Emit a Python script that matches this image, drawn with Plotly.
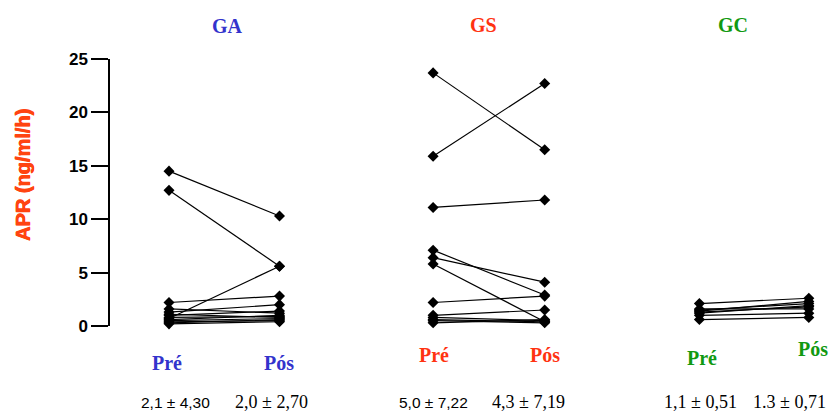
import plotly.graph_objects as go

# ---- data ----
groups = ["GA", "GS", "GC"]
phase_labels = ["Pré", "Pós"]

ga_pre = [14.5, 12.7, 0.7, 2.2, 1.3, 1.6, 1.0, 0.8, 0.5, 0.4, 0.3, 0.6, 1.1, 0.2]
ga_pos = [10.3, 5.6, 5.6, 2.8, 2.0, 1.2, 1.4, 0.9, 0.7, 0.5, 0.6, 1.0, 0.8, 0.4]

gs_pre = [23.7, 15.9, 11.1, 7.1, 6.4, 5.8, 2.2, 1.0, 0.8, 0.5, 0.3, 0.6]
gs_pos = [16.5, 22.7, 11.8, 2.9, 4.1, 0.4, 2.8, 1.5, 0.5, 0.3, 0.6, 0.4]

gc_pre = [2.1, 1.5, 1.3, 1.2, 1.6, 0.6, 1.4, 1.0]
gc_pos = [2.6, 2.1, 1.8, 1.9, 1.6, 0.8, 2.3, 1.2]

stats_pre = ["2,1 ± 4,30", "5,0 ± 7,22", "1,1 ± 0,51"]
stats_pos = ["2,0 ± 2,70", "4,3 ± 7,19", "1.3 ± 0,71"]

y_ticks = [0, 5, 10, 15, 20, 25]
y_title = "APR (ng/ml/h)"

# ---- layout constants ----
group_x = [(0.0, 1.0), (2.39, 3.40), (4.80, 5.79)]
group_colors = ["#3333CC", "#FF3311", "#119911"]

W, H = 834, 412
L, R, T, B = 110, 10, 59, 86
PW = W - L - R
PH = H - T - B
unit = 110.5
x0 = -(169 - L) / unit
x1 = x0 + PW / unit


def py(p):
    return (H - B - p) / PH


def px(p):
    return (p - L) / PW


fig = go.Figure()
series = [(ga_pre, ga_pos), (gs_pre, gs_pos), (gc_pre, gc_pos)]
for (pre, pos), (xa, xb) in zip(series, group_x):
    xs, ys = [], []
    for a, b in zip(pre, pos):
        xs += [xa, xb, None]
        ys += [a, b, None]
    fig.add_trace(go.Scatter(
        x=xs, y=ys, mode="lines+markers",
        line=dict(color="black", width=1.2),
        marker=dict(symbol="diamond", size=8.5, color="black"),
        cliponaxis=False, showlegend=False, hoverinfo="skip"))

ann = []
title_px = [227, 483, 733]
title_py = [26, 25, 25]
pre_py = [363, 355, 358]
pos_py = [363, 355, 349]
pre_lx = [167, 434, 702]
pos_lx = [279, 545, 813]
stat_pre_x = [175, 433, 700]
stat_pos_x = [271, 528, 789]
stat_pre_fonts = ["Liberation Sans", "Liberation Sans", "Liberation Serif"]
stat_pre_sizes = [15.5, 15.5, 18]
serif = "Liberation Serif, Times New Roman, serif"


def label(text, x, y, font, angle=0):
    return dict(text=text, xref="paper", yref="paper", x=px(x), y=py(y),
                xanchor="center", yanchor="middle", textangle=angle,
                showarrow=False, font=font)


for i, g in enumerate(groups):
    c = group_colors[i]
    bold = dict(family=serif, size=20, color=c)
    ann.append(label("<b>" + g + "</b>", title_px[i], title_py[i], bold))
    ann.append(label("<b>" + phase_labels[0] + "</b>", pre_lx[i], pre_py[i], bold))
    ann.append(label("<b>" + phase_labels[1] + "</b>", pos_lx[i], pos_py[i], bold))
    ann.append(label(stats_pre[i], stat_pre_x[i], 402,
                     dict(family=stat_pre_fonts[i], size=stat_pre_sizes[i], color="black")))
    ann.append(label(stats_pos[i], stat_pos_x[i], 402,
                     dict(family=serif, size=18, color="black")))

ann.append(label(y_title, 23, 175,
                 dict(family="Liberation Sans", size=20, color="#FF4411", weight="bold",
                      shadow="0.6px 0 0 #FF4411, -0.3px 0 0 #FF4411"), -90))

fig.update_layout(
    width=W, height=H,
    margin=dict(l=L, r=R, t=T, b=B),
    paper_bgcolor="white", plot_bgcolor="white",
    annotations=ann,
    xaxis=dict(range=[x0, x1], visible=False, fixedrange=True),
    yaxis=dict(range=[0, 25], tickvals=y_ticks, ticktext=[str(v) for v in y_ticks],
               showgrid=False, zeroline=False, showline=True, linecolor="black", linewidth=1.5,
               ticks="outside", ticklen=17, tickwidth=1.5, tickcolor="black", fixedrange=True,
               tickfont=dict(family="Liberation Sans, Arial", size=17, color="black", weight="bold")),
)

fig.write_html("out.html", config={"displayModeBar": False},
               post_script="document.body.style.margin='0';document.body.style.padding='0';")
